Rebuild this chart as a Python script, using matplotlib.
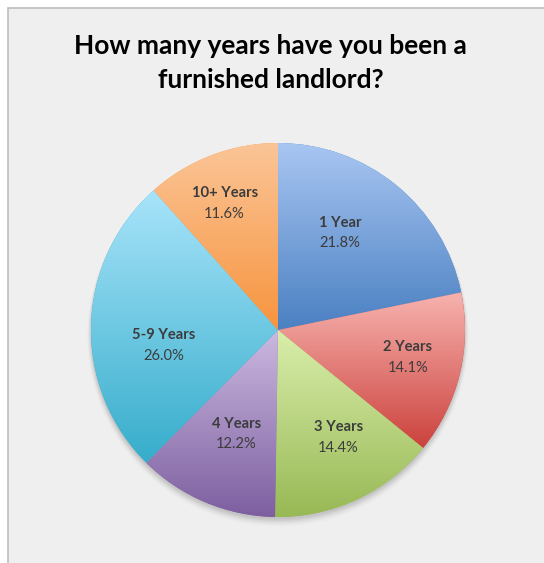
import numpy as np
import matplotlib
matplotlib.use("Agg")
from matplotlib import pyplot as plt
from matplotlib.patches import Rectangle, Circle
from matplotlib.colors import LinearSegmentedColormap

# Data
categories = ["1 Year", "2 Years", "3 Years", "4 Years", "5-9 Years", "10+ Years"]
shares = [21.8, 14.1, 14.4, 12.2, 26.0, 11.6]
title = "How many years have you been a\nfurnished landlord?"

# Gradient colours (top, bottom) per slice
top_colors = ["#A9C6F2", "#F7B3AF", "#D9EEAB", "#CBB9E0", "#A8E4FA", "#FBC597"]
bottom_colors = ["#4A80C2", "#CC423D", "#98B955", "#7D5FA0", "#36ADCB", "#F7943F"]

# label placement (angle offset from mid-angle in degrees, radius fraction)
label_adjust = [(6.6, 0.615), (1.7, 0.71), (4.2, 0.66), (1.0, 0.60), (9.3, 0.615), (2.0, 0.735)]

plt.rcParams['font.family'] = ['Lato', 'DejaVu Sans']

W, H = 544, 563
fig = plt.figure(figsize=(W / 100, H / 100), dpi=100)
fig.patch.set_facecolor("white")

# chart area frame
fig.patches.append(Rectangle((7.5 / W, -0.01), 1.0, (H - 7.5) / H + 0.01,
                             transform=fig.transFigure, facecolor="#EFEFEF",
                             edgecolor="#BDBDBD", linewidth=1.2, zorder=-5))

fig.text(0.497, (H - 63) / H, title, ha="center", va="center", fontsize=19,
         fontweight="bold", color="black", linespacing=1.45)

# axes: pie center at (278, 330) px, radius 187 px
cx, cy, R = 278, 330, 187
lim = 1.25
half = R * lim
ax = fig.add_axes([(cx - half) / W, (H - cy - half) / H, 2 * half / W, 2 * half / H])
ax.set_zorder(2)
ax.patch.set_alpha(0)
ax.set_xlim(-lim, lim)
ax.set_ylim(-lim, lim)
ax.set_aspect("equal")
ax.axis("off")

# soft shadow
for i, a in enumerate(np.linspace(0.05, 0.01, 6)):
    ax.add_patch(Circle((0.0, -0.012 - 0.004 * i), 1.0 + 0.004 * i, facecolor="black",
                        edgecolor="none", alpha=a, zorder=0))

wedges, _ = ax.pie(shares, startangle=90, counterclock=False, radius=1.0,
                   wedgeprops=dict(edgecolor="none", linewidth=0))

grad = np.linspace(0, 1, 256).reshape(-1, 1)
for w, c0, c1 in zip(wedges, top_colors, bottom_colors):
    th = np.radians(np.linspace(w.theta1, w.theta2, 200))
    xs = np.concatenate([[0], np.cos(th)])
    ys = np.concatenate([[0], np.sin(th)])
    cmap = LinearSegmentedColormap.from_list("g", [c0, c1])
    w.set_facecolor(c1)
    im = ax.imshow(grad, cmap=cmap, extent=[xs.min(), xs.max(), ys.min(), ys.max()],
                   origin="upper", aspect="auto", zorder=2, interpolation="bilinear")
    im.set_clip_path(w)
ax.set_xlim(-lim, lim)
ax.set_ylim(-lim, lim)

for w, name, val, (dth, frac) in zip(wedges, categories, shares, label_adjust):
    mid = np.radians((w.theta1 + w.theta2) / 2 + dth)
    x, y = frac * np.cos(mid), frac * np.sin(mid)
    ax.text(x, y + 0.055, name, ha="center", va="center", fontsize=10.6,
            fontweight="bold", color="#3C3C3C", zorder=5)
    ax.text(x, y - 0.055, f"{val:.1f}%", ha="center", va="center", fontsize=10.6,
            color="#3C3C3C", zorder=5)

fig.savefig("out.png", dpi=100)
